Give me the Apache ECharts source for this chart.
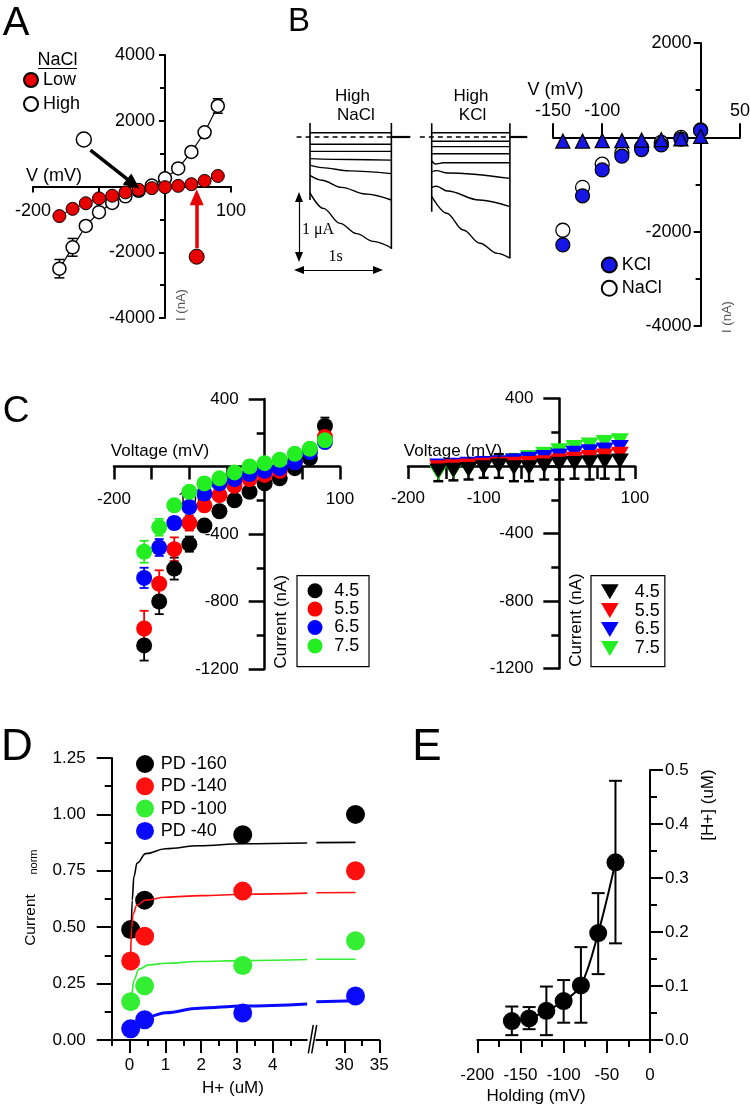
<!DOCTYPE html>
<html><head><meta charset="utf-8">
<script src="https://cdn.jsdelivr.net/npm/echarts@6/dist/echarts.min.js"></script>
<style>html,body{margin:0;padding:0;background:#fff}#c{width:750px;height:1108px}</style>
</head><body><div id="c"></div>
<script>
const FONT = '"Liberation Sans", Arial, Helvetica, sans-serif';
const SERIF = '"Liberation Serif", "DejaVu Serif", "Times New Roman", serif';

// ---------------- Panel A ----------------
const aVoltage = [-160,-140,-120,-100,-80,-60,-40,-20,0,20,40,60,80];
const aLowNaCl = [-900,-680,-510,-360,-280,-180,-100,-50,-20,20,70,170,320];
const aHighNaCl = [-2500,-1850,-1200,-780,-500,-300,-130,30,250,550,1050,1650,2450];
const aHighErr = [280,270,0,0,0,0,0,0,0,0,0,0,220];
const aHighMarker = [-123, 1430];
const aLowMarker = [48, -2135];
const aBlackArrow = [[-113, 1110], [-48, 80]];
const aRedArrow = [[48, -1880], [48, -330]];
const aXLabels = [-200, 100];

// ---------------- Panel B (traces, uA vs s) ----------------
const bNaClTraces = [
  [[0,0.07],[1.03,0.07]],
  [[0,-0.12],[1.03,-0.12]],
  [[0,-0.24],[1.03,-0.24]],
  [[0,-0.36],[0.5,-0.375],[1.03,-0.385]],
  [[0,-0.47],[0.15,-0.51],[0.5,-0.565],[1.03,-0.61]],
  [[0,-0.64],[0.15,-0.72],[0.4,-0.84],[0.7,-0.95],[1.03,-1.05]],
  [[0,-0.93],[0.17,-1.19],[0.38,-1.44],[0.59,-1.61],[0.8,-1.74],[1.03,-1.85]]
];
const bKClTraces = [
  [[0,0.07],[0.99,0.07]],
  [[0,-0.07],[0.99,-0.07]],
  [[0,-0.16],[0.99,-0.16]],
  [[0,-0.28],[0.99,-0.28]],
  [[0,-0.40],[0.05,-0.45],[0.15,-0.43],[0.99,-0.43]],
  [[0,-0.58],[0.06,-0.56],[0.2,-0.6],[0.99,-0.69]],
  [[0,-0.84],[0.06,-0.82],[0.2,-0.9],[0.6,-1.05],[0.99,-1.16]],
  [[0,-0.99],[0.19,-1.27],[0.4,-1.55],[0.61,-1.77],[0.83,-1.94],[0.99,-2.02]]
];
const bNaClOn = [0, 0.233, -1.05];
const bNaClOff = [1.03, 0.233, -1.867];
const bKClOn = [0, 0.228, -1.245];
const bKClOff = [0.99, 0.228, -2.02];
const bNaClBase = [-0.17, 1.27];
const bKClBase = [-0.15, 1.21];
const bScaleV = [[-0.139, -1.0], [-0.139, -2.0]];   // 1 uA
const bScaleH = [[-0.139, -2.217], [0.861, -2.217]]; // 1 s

// ---------------- Panel B (I-V) ----------------
const bVolt = [-140,-120,-100,-80,-60,-40,-20,0];
const bKCl = [-2280,-1240,-690,-400,-260,-160,-40,140];
const bNaCl = [-1970,-1060,-570,-330,-210,-110,0,155];
const bTri = [-80,-80,-70,-70,-60,-50,-30,20];
const bKClErr = [120,100,70,50,40,30,20,40];
const bNaClErr = [130,100,70,50,40,30,20,40];
const bXTickVals = [-150,-100,40];
const bXTickLabels = ['-150','-100','50'];

// ---------------- Panel C ----------------
const cVolt = [-160,-140,-120,-100,-80,-60,-40,-20,0,20,40,60,80];
const cNames = ['4.5','5.5','6.5','7.5'];
const cLeft45 = [-1060,-800,-605,-460,-350,-265,-200,-150,-100,-70,-10,50,240];
const cLeft55 = [-960,-695,-490,-335,-230,-170,-115,-75,-50,-25,25,95,175];
const cLeft65 = [-660,-480,-335,-240,-160,-100,-75,-45,-25,-10,25,85,145];
const cLeft75 = [-505,-360,-230,-150,-100,-70,-35,0,20,40,75,105,155];
const cLeftErr45 = [90,75,65,45,35,30,25,20,20,20,20,20,50];
const cLeftErr55 = [105,80,70,45,35,30,25,20,20,20,20,20,30];
const cLeftErr65 = [60,50,35,30,25,20,20,20,15,15,15,20,25];
const cLeftErr75 = [65,50,30,25,20,20,20,15,15,15,15,20,25];
const cRight45 = [-30,-25,-20,-10,0,-10,-10,0,10,15,20,25,30];
const cRight55 = [-10,-5,0,5,10,10,15,20,30,40,50,60,70];
const cRight65 = [0,5,10,15,20,30,40,50,60,75,85,95,110];
const cRight75 = [-40,-30,-20,-5,10,30,50,70,90,110,125,140,150];
const cRightErr45 = [60,60,60,60,70,80,80,80,90,90,100,100,110];
const cXLabels = [-200,-100,100];

// ---------------- Panel D ----------------
const dHplus = [0.03, 0.42, 3.16, 31.6];
const dNames = ['PD -160','PD -140','PD -100','PD -40'];
const dPD160 = [0.49, 0.62, 0.91, 1.00];
const dPD140 = [0.35, 0.46, 0.66, 0.75];
const dPD100 = [0.17, 0.24, 0.33, 0.44];
const dPD40  = [0.05, 0.09, 0.12, 0.195];
const dFit160 = [[0.045,0.47],[0.073,0.62],[0.12,0.725],[0.21,0.784],[0.45,0.826],[1,0.848],[1.94,0.861],[3.17,0.87],[4.96,0.873],[26,0.875],[31.6,0.876]];
const dFit140 = [[0.03,0.38],[0.06,0.5],[0.1,0.56],[0.2,0.597],[0.45,0.62],[1,0.633],[2,0.64],[3.2,0.646],[4.96,0.651],[26,0.653],[31.6,0.654]];
const dFit100 = [[0.073,0.207],[0.12,0.266],[0.26,0.314],[0.54,0.333],[1,0.34],[1.94,0.348],[3.17,0.352],[4.96,0.357],[26,0.358],[31.6,0.358]];
const dFit40  = [[0.073,0.052],[0.26,0.081],[0.54,0.103],[1,0.121],[1.94,0.141],[3.17,0.151],[4.96,0.16],[26,0.17],[31.6,0.174]];
const dLeftMajor = [0,1,2,3,4];
const dLeftMinor = [-0.5,0.5,1.5,2.5,3.5,4.5];
const dRightMajor = [30,35];
const dRightMinor = [27.5,32.5];

// ---------------- Panel E ----------------
const eHolding = [-160,-140,-120,-100,-80,-60,-40];
const eHplus = [0.035,0.040,0.054,0.072,0.101,0.198,0.329];
const eErrHi = [0.062,0.061,0.099,0.111,0.172,0.272,0.48];
const eErrLo = [0.009,0.020,0.009,0.032,0.032,0.122,0.179];

// ---------------- helpers ----------------
const zip = (xs, ys) => xs.map((x, i) => [x, ys[i]]);
const BLK = '#000';
function errSeries(xi, yi, rows, color, capW, lw) {
  return {
    type: 'custom', xAxisIndex: xi, yAxisIndex: yi, silent: true,
    data: rows, encode: {x: 0, y: [1, 2]},
    renderItem: function (params, api) {
      const x = api.value(0), lo = api.value(1), hi = api.value(2);
      const p1 = api.coord([x, lo]), p2 = api.coord([x, hi]);
      const st = {stroke: color, lineWidth: lw, fill: null};
      return {type: 'group', children: [
        {type: 'line', shape: {x1: p1[0], y1: p1[1], x2: p2[0], y2: p2[1]}, style: st},
        {type: 'line', shape: {x1: p1[0]-capW/2, y1: p1[1], x2: p1[0]+capW/2, y2: p1[1]}, style: st},
        {type: 'line', shape: {x1: p2[0]-capW/2, y1: p2[1], x2: p2[0]+capW/2, y2: p2[1]}, style: st}
      ]};
    }
  };
}
function symErr(xs, ys, es) {
  return xs.map((x, i) => [x, ys[i]-es[i], ys[i]+es[i]]).filter((r, i) => es[i] > 0);
}
function lbl(o) { return Object.assign({fontFamily: FONT, color: BLK}, o); }
function tl(w) { return {color: BLK, width: w}; }

// ---------------- grids ----------------
const gA  = {left:33, top:55, width:198, height:263};
const gBN = {left:294.2, top:92, width:118.5, height:195};
const gBK = {left:415.9, top:92, width:118.5, height:195};
const gB  = {left:553, top:43, width:187, height:283};
const gCL = {left:114, top:399, width:226, height:270};
const gCR = {left:408, top:398.5, width:227, height:270};
const gDL = {left:111.7, top:758, width:195.1, height:282};
const gDR = {left:316.3, top:758, width:63, height:282};
const gE  = {left:477.3, top:770, width:172.7, height:270};
const grids = [gA, gBN, gBK, gB, gCL, gCR, gDL, gDR, gE].map(g => Object.assign({containLabel:false, outerBoundsMode:'none'}, g));

// offsets that place a crossing axis at the other axis's zero (inward = negative offset)
const offBottom = (g, ymin, ymax) => -g.height * (0 - ymin) / (ymax - ymin);
const offTop = (g, ymin, ymax) => -g.height * (ymax - 0) / (ymax - ymin);
const offLeft = (g, xmin, xmax) => -g.width * (0 - xmin) / (xmax - xmin);

// ---------------- axes ----------------
const xAxes = [
  {gridIndex:0, type:'value', min:-200, max:100, interval:100, position:'bottom', offset:offBottom(gA, -4000, 4000),
   axisLine:{onZero:false, lineStyle:tl(2)}, axisTick:{length:6, lineStyle:tl(2)},
   axisLabel:lbl({customValues:aXLabels, margin:16, fontSize:18}), splitLine:{show:false}},
  {gridIndex:1, type:'value', min:-0.2, max:1.3, show:false},
  {gridIndex:2, type:'value', min:-0.2, max:1.3, show:false},
  {gridIndex:3, type:'value', min:-150, max:40, position:'top', offset:offTop(gB, -4000, 2000),
   axisLine:{onZero:false, lineStyle:tl(2)}, axisTick:{customValues:bXTickVals, length:14, lineStyle:tl(2)},
   axisLabel:lbl({customValues:bXTickVals, formatter:v => bXTickLabels[bXTickVals.indexOf(v)], margin:17, fontSize:18}),
   splitLine:{show:false}},
  {gridIndex:4, type:'value', min:-200, max:100, interval:50, position:'bottom', offset:offBottom(gCL, -1200, 400),
   axisLine:{onZero:false, lineStyle:tl(2.5)}, axisTick:{length:13, lineStyle:tl(2.5)},
   axisLabel:lbl({customValues:cXLabels, margin:24, fontSize:17}), splitLine:{show:false}},
  {gridIndex:5, type:'value', min:-200, max:100, interval:50, position:'bottom', offset:offBottom(gCR, -1200, 400),
   axisLine:{onZero:false, lineStyle:tl(2.5)}, axisTick:{length:13, lineStyle:tl(2.5)},
   axisLabel:lbl({customValues:cXLabels, margin:24, fontSize:17}), splitLine:{show:false}},
  {gridIndex:6, type:'value', min:-0.5, max:4.95, position:'bottom',
   axisLine:{onZero:false, lineStyle:tl(2)}, axisTick:{customValues:dLeftMajor, length:13, lineStyle:tl(2)},
   axisLabel:lbl({customValues:dLeftMajor, margin:17, fontSize:17}), splitLine:{show:false}},
  {gridIndex:6, type:'value', min:-0.5, max:4.95, position:'bottom',
   axisLine:{show:false, onZero:false}, axisTick:{customValues:dLeftMinor, length:6, lineStyle:tl(2)},
   axisLabel:{show:false}, splitLine:{show:false}},
  {gridIndex:7, type:'value', min:26, max:35, position:'bottom',
   axisLine:{onZero:false, lineStyle:tl(2)}, axisTick:{customValues:dRightMajor, length:13, lineStyle:tl(2)},
   axisLabel:lbl({customValues:dRightMajor, margin:17, fontSize:17}), splitLine:{show:false}},
  {gridIndex:7, type:'value', min:26, max:35, position:'bottom',
   axisLine:{show:false, onZero:false}, axisTick:{customValues:dRightMinor, length:6, lineStyle:tl(2)},
   axisLabel:{show:false}, splitLine:{show:false}},
  {gridIndex:8, type:'value', min:-200, max:0, interval:50, position:'bottom',
   axisLine:{onZero:false, lineStyle:tl(2)}, axisTick:{length:13, lineStyle:tl(2)},
   minorTick:{show:true, splitNumber:2, length:7, lineStyle:tl(2)},
   axisLabel:lbl({margin:27, fontSize:17}), splitLine:{show:false}, minorSplitLine:{show:false}}
];
const yAxes = [
  {gridIndex:0, type:'value', min:-4000, max:4000, interval:2000, position:'left', offset:offLeft(gA, -200, 100),
   axisLine:{onZero:false, lineStyle:tl(2)}, axisTick:{length:6, lineStyle:tl(2)},
   minorTick:{show:true, splitNumber:2, length:5, lineStyle:tl(2)},
   axisLabel:lbl({formatter:v => v === 0 ? '' : String(v), margin:10, fontSize:18}),
   splitLine:{show:false}, minorSplitLine:{show:false}},
  {gridIndex:1, type:'value', min:-2.5, max:0.75, show:false},
  {gridIndex:2, type:'value', min:-2.5, max:0.75, show:false},
  {gridIndex:3, type:'value', min:-4000, max:2000, interval:2000, position:'left', offset:offLeft(gB, -150, 40),
   axisLine:{onZero:false, lineStyle:tl(2)}, axisTick:{length:7, lineStyle:tl(2)},
   minorTick:{show:true, splitNumber:2, length:5, lineStyle:tl(2)},
   axisLabel:lbl({formatter:v => v === 0 ? '' : String(v), margin:9, fontSize:18}),
   splitLine:{show:false}, minorSplitLine:{show:false}},
  {gridIndex:4, type:'value', min:-1200, max:400, interval:400, position:'left', offset:offLeft(gCL, -200, 100),
   axisLine:{onZero:false, lineStyle:tl(2.5)}, axisTick:{length:16, lineStyle:tl(2.5)},
   minorTick:{show:true, splitNumber:2, length:8, lineStyle:tl(2.5)},
   axisLabel:lbl({formatter:v => v === 0 ? '' : String(v), margin:26, fontSize:17}),
   splitLine:{show:false}, minorSplitLine:{show:false}},
  {gridIndex:5, type:'value', min:-1200, max:400, interval:400, position:'left', offset:offLeft(gCR, -200, 100),
   axisLine:{onZero:false, lineStyle:tl(2.5)}, axisTick:{length:16, lineStyle:tl(2.5)},
   minorTick:{show:true, splitNumber:2, length:8, lineStyle:tl(2.5)},
   axisLabel:lbl({formatter:v => v === 0 ? '' : String(v), margin:26, fontSize:17}),
   splitLine:{show:false}, minorSplitLine:{show:false}},
  {gridIndex:6, type:'value', min:0, max:1.25, interval:0.25,
   axisLine:{onZero:false, lineStyle:tl(2)}, axisTick:{length:15, lineStyle:tl(2)},
   minorTick:{show:true, splitNumber:2, length:7, lineStyle:tl(2)},
   axisLabel:lbl({formatter:v => v.toFixed(2), margin:26, fontSize:17}),
   splitLine:{show:false}, minorSplitLine:{show:false}},
  {gridIndex:7, type:'value', min:0, max:1.25, show:false},
  {gridIndex:8, type:'value', min:0, max:0.5, interval:0.1, position:'right',
   axisLine:{onZero:false, lineStyle:tl(2)}, axisTick:{length:13, lineStyle:tl(2)},
   minorTick:{show:true, splitNumber:2, length:7, lineStyle:tl(2)},
   axisLabel:lbl({formatter:v => v.toFixed(1), margin:15, fontSize:17}),
   splitLine:{show:false}, minorSplitLine:{show:false}}
];

// ---------------- series ----------------
const series = [];
const RED_A = '#e60000';
// A
series.push(errSeries(0, 0, symErr(aVoltage, aHighNaCl, aHighErr), BLK, 10, 1.5));
series.push({type:'line', name:'High', xAxisIndex:0, yAxisIndex:0, data:zip(aVoltage, aHighNaCl),
  symbol:'circle', symbolSize:13, itemStyle:{color:'#fff', borderColor:BLK, borderWidth:1.5, opacity:1},
  lineStyle:{color:BLK, width:1.2}});
series.push({type:'line', name:'Low', xAxisIndex:0, yAxisIndex:0, data:zip(aVoltage, aLowNaCl),
  symbol:'circle', symbolSize:13, itemStyle:{color:RED_A, borderColor:BLK, borderWidth:1, opacity:1},
  lineStyle:{color:BLK, width:1}});
series.push({type:'scatter', xAxisIndex:0, yAxisIndex:0, data:[aHighMarker], symbolSize:15,
  itemStyle:{color:'#fff', borderColor:BLK, borderWidth:1.5, opacity:1},
  markLine:{silent:true, symbol:['none','triangle'], symbolSize:[14,16], label:{show:false},
    lineStyle:{color:BLK, width:3.5, type:'solid'}, emphasis:{disabled:true},
    data:[[{coord:aBlackArrow[0]},{coord:aBlackArrow[1]}]]}});
series.push({type:'scatter', xAxisIndex:0, yAxisIndex:0, data:[aLowMarker], symbolSize:15,
  itemStyle:{color:RED_A, borderColor:BLK, borderWidth:1, opacity:1},
  markLine:{silent:true, symbol:['none','triangle'], symbolSize:[14,16], label:{show:false},
    lineStyle:{color:RED_A, width:3.5, type:'solid'}, emphasis:{disabled:true},
    data:[[{coord:aRedArrow[0]},{coord:aRedArrow[1]}]]}});

// B traces
function traceLines(traces, ai) {
  traces.forEach(tr => series.push({type:'line', xAxisIndex:ai, yAxisIndex:ai, data:tr, symbol:'none',
    smooth:0.35, smoothMonotone:'x', silent:true, lineStyle:{color:BLK, width:1.4}}));
}
traceLines(bNaClTraces, 1);
traceLines(bKClTraces, 2);
function edges(on, off, base, ai, extra) {
  series.push({type:'line', xAxisIndex:ai, yAxisIndex:ai, data:[[on[0],on[1]],[on[0],on[2]]], symbol:'none', silent:true, lineStyle:{color:BLK, width:1.6}});
  series.push(Object.assign({type:'line', xAxisIndex:ai, yAxisIndex:ai, data:[[off[0],off[1]],[off[0],off[2]]], symbol:'none', silent:true, lineStyle:{color:BLK, width:1.6}}, extra || {}));
  series.push({type:'line', xAxisIndex:ai, yAxisIndex:ai, data:[[base[0],0],[base[1],0]], symbol:'none', silent:true, lineStyle:{color:BLK, width:1.6, type:[5,4]}});
  series.push({type:'line', xAxisIndex:ai, yAxisIndex:ai, data:[[off[0],0],[base[1],0]], symbol:'none', silent:true, lineStyle:{color:BLK, width:2.2}});
}
edges(bNaClOn, bNaClOff, bNaClBase, 1, {
  markLine:{silent:true, symbol:['triangle','triangle'], symbolSize:[8,10], label:{show:false}, emphasis:{disabled:true},
    lineStyle:{color:BLK, width:1.2, type:'solid'},
    data:[[{coord:bScaleV[0]},{coord:bScaleV[1]}],[{coord:bScaleH[0]},{coord:bScaleH[1]}]]}
});
edges(bKClOn, bKClOff, bKClBase, 2);

// B IV
series.push(errSeries(3, 3, symErr(bVolt, bNaCl, bNaClErr), BLK, 7, 1.3));
series.push({type:'scatter', name:'NaCl', xAxisIndex:3, yAxisIndex:3, data:zip(bVolt, bNaCl), symbolSize:14,
  itemStyle:{color:'#fff', borderColor:BLK, borderWidth:1.3, opacity:1}});
series.push({type:'scatter', name:'KCl', xAxisIndex:3, yAxisIndex:3, data:zip(bVolt, bKCl), symbolSize:14,
  itemStyle:{color:'#1616e6', borderColor:BLK, borderWidth:1.2, opacity:1}});
series.push(errSeries(3, 3, symErr(bVolt, bKCl, bKClErr), BLK, 7, 1.3));
series.push({type:'scatter', xAxisIndex:3, yAxisIndex:3, data:zip(bVolt, bTri), symbol:'triangle', symbolSize:14,
  itemStyle:{color:'#1616e6', borderColor:BLK, borderWidth:1.3, opacity:1}});

// C left
const cCols = ['#000000','#ff0000','#0000ff','#22ee22'];
const cLeftSets = [cLeft45, cLeft55, cLeft65, cLeft75];
const cLeftErrs = [cLeftErr45, cLeftErr55, cLeftErr65, cLeftErr75];
cLeftSets.forEach((ys, k) => {
  series.push({type:'scatter', name:cNames[k], xAxisIndex:4, yAxisIndex:4, data:zip(cVolt, ys), symbolSize:16,
    itemStyle:{color:cCols[k], borderWidth:0, opacity:1}});
  series.push(errSeries(4, 4, symErr(cVolt, ys, cLeftErrs[k]), cCols[k], 9, 1.8));
});
// C right
const cRightSets = [cRight75, cRight65, cRight55, cRight45];
const cRightCols = [cCols[3], cCols[2], cCols[1], cCols[0]];
const cRightNames = [cNames[3], cNames[2], cNames[1], cNames[0]];
cRightSets.forEach((ys, k) => {
  series.push({type:'scatter', name:cRightNames[k] + ' ', xAxisIndex:5, yAxisIndex:5, data:zip(cVolt, ys),
    symbol:'triangle', symbolRotate:180, symbolKeepAspect:true, symbolSize:[18,15], itemStyle:{color:cRightCols[k], borderWidth:0, opacity:1}});
});
series.push(errSeries(5, 5, symErr(cVolt, cRight45, cRightErr45), BLK, 10, 2.5));

// D
const dSets = [dPD160, dPD140, dPD100, dPD40];
const dFits = [dFit160, dFit140, dFit100, dFit40];
const dCols = ['#000000','#ff1010','#33ee33','#0a0aff'];
dFits.forEach((f, k) => {
  const w = k === 3 ? 3 : 1.6;
  series.push({type:'line', xAxisIndex:6, yAxisIndex:6, data:f.filter(p => p[0] < 5), symbol:'none', smooth:0.4, smoothMonotone:'x', silent:true, lineStyle:{color:dCols[k], width:w}});
  series.push({type:'line', xAxisIndex:8, yAxisIndex:7, data:f.filter(p => p[0] >= 5), symbol:'none', silent:true, lineStyle:{color:dCols[k], width:w}});
});
dSets.forEach((ys, k) => {
  const pts = zip(dHplus, ys);
  series.push({type:'scatter', name:dNames[k], xAxisIndex:6, yAxisIndex:6, data:pts.filter(p => p[0] < 5), symbolSize:19, itemStyle:{color:dCols[k], borderWidth:0, opacity:1}});
  series.push({type:'scatter', name:dNames[k] + ' ', xAxisIndex:8, yAxisIndex:7, data:pts.filter(p => p[0] >= 5), symbolSize:19, itemStyle:{color:dCols[k], borderWidth:0, opacity:1}});
});

// E
series.push({type:'line', xAxisIndex:10, yAxisIndex:8, data:zip(eHolding, eHplus), symbol:'none', smooth:0.35, silent:true, lineStyle:{color:BLK, width:2}});
series.push(errSeries(10, 8, eHolding.map((x, i) => [x, eErrLo[i], eErrHi[i]]), BLK, 13, 2));
series.push({type:'scatter', xAxisIndex:10, yAxisIndex:8, data:zip(eHolding, eHplus), symbolSize:18, itemStyle:{color:BLK, opacity:1}});

// ---------------- legends ----------------
const legTxt = (pad) => ({fontFamily:FONT, fontSize:18, color:BLK, lineHeight:18, padding:pad || 0});
const legends = [
  {data:['Low','High'], orient:'vertical', left:23, top:71, padding:0, itemWidth:14, itemHeight:14, itemGap:6,
   icon:'circle', textStyle:legTxt(), selectedMode:false},
  {data:['KCl','NaCl'], orient:'vertical', left:600.8, top:256, padding:0, itemWidth:15, itemHeight:15, itemGap:5.3,
   textStyle:legTxt(), selectedMode:false},
  {data:cNames, orient:'vertical', left:297, top:575.7, padding:[6,9.7,11.7,10.5], itemWidth:15, itemHeight:15, itemGap:0.4,
   borderColor:BLK, borderWidth:1.2, textStyle:legTxt([0,0,0,6.8]), selectedMode:false},
  {data:cNames.map(n => n + ' '), orient:'vertical', left:591, top:575.7, padding:[7,5,9.3,10], itemWidth:18, itemHeight:15, itemGap:0.9,
   icon:'path://M0,0L20,0L10,17Z',
   borderColor:BLK, borderWidth:1.2, textStyle:legTxt([0,0,0,11]), formatter:n => n.trim(), selectedMode:false},
  {data:dNames, orient:'vertical', left:136, top:755, padding:0, itemWidth:18, itemHeight:18, itemGap:4.3,
   textStyle:legTxt([0,0,0,1.7]), selectedMode:false}
];

// ---------------- text annotations ----------------
function T(x, y, text, size, opt) {
  opt = opt || {};
  const font = size + 'px ' + (opt.family || FONT);
  return {type:'text', x:x, y:y, rotation:opt.rot || 0, silent:true, z:100,
    style:{text:text, font:font, fill:opt.color || BLK, textAlign:opt.align || 'center', textVerticalAlign:'middle',
      align:opt.align || 'center', verticalAlign:'middle'}};
}
const ROT = Math.PI / 2;
const graphics = [
  T(16, 24, 'A', 40), T(299, 22, 'B', 33), T(16, 412, 'C', 37), T(17, 748, 'D', 44), T(427, 748, 'E', 44),
  T(57.5, 60, 'NaCl', 18),
  {type:'line', shape:{x1:38, y1:68.5, x2:77, y2:68.5}, style:{stroke:BLK, lineWidth:1.2}, silent:true},
  T(54, 176, 'V (mV)', 18),
  T(181, 305, 'I (nA)', 13, {rot:ROT, color:'#555'}),
  T(352.5, 96.7, 'High', 17), T(355.8, 115, 'NaCl', 17),
  T(471, 96.7, 'High', 17), T(472.5, 115, 'KCl', 17),
  T(302, 230, '1 \u03bcA', 16, {family:SERIF, align:'left'}),
  T(335.5, 256.7, '1s', 16, {family:SERIF}),
  T(555.5, 90, 'V (mV)', 18),
  T(727, 317, 'I (nA)', 13, {rot:ROT, color:'#555'}),
  T(160, 451.7, 'Voltage (mV)', 17), T(453, 451.7, 'Voltage (mV)', 17),
  T(281.7, 621.7, 'Current (nA)', 17, {rot:ROT}), T(576.7, 620, 'Current (nA)', 17, {rot:ROT}),
  T(30.5, 920, 'Current', 15.5, {rot:ROT}), T(34, 862, 'norm', 11, {rot:ROT}),
  T(233, 1088, 'H+ (uM)', 17),
  T(536, 1096, 'Holding (mV)', 17),
  T(708, 805, '[H+] (uM)', 17, {rot:ROT}),
  {type:'line', shape:{x1:308.3, y1:1053.3, x2:313.3, y2:1025}, style:{stroke:BLK, lineWidth:1.5}, silent:true},
  {type:'line', shape:{x1:311.7, y1:1053.3, x2:316.7, y2:1025}, style:{stroke:BLK, lineWidth:1.5}, silent:true}
];

const chart = echarts.init(document.getElementById('c'), null, {renderer:'canvas', width:750, height:1108});
chart.setOption({
  animation:false,
  backgroundColor:'#fff',
  textStyle:{fontFamily:FONT},
  grid:grids, xAxis:xAxes, yAxis:yAxes, series:series, legend:legends, graphic:graphics
});
</script></body></html>
